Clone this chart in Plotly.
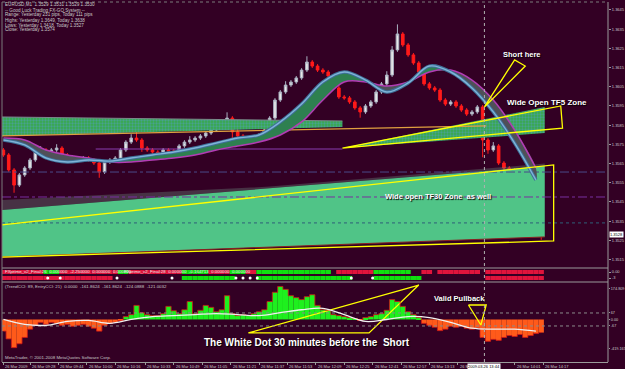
import plotly.graph_objects as go

# ======================= DATA =======================
session_start = "09:13"
bar_minutes = 3

first_open = 1.35721
close = [1.35695, 1.35617, 1.35538, 1.35591, 1.35627, 1.35669, 1.35710, 1.35721, 1.35710, 1.35721,
         1.35731, 1.35695, 1.35679, 1.35669, 1.35669, 1.35679, 1.35669, 1.35653, 1.35606, 1.35658,
         1.35669, 1.35679, 1.35721, 1.35762, 1.35783, 1.35773, 1.35731, 1.35721, 1.35710, 1.35705,
         1.35721, 1.35716, 1.35710, 1.35742, 1.35762, 1.35773, 1.35783, 1.35794, 1.35809, 1.35825,
         1.35835, 1.35851, 1.35887, 1.35815, 1.35794, 1.35773, 1.35783, 1.35773, 1.35799, 1.35825,
         1.35887, 1.35981, 1.36023, 1.36059, 1.36075, 1.36096, 1.36137, 1.36179, 1.36158, 1.36137,
         1.36127, 1.36106, 1.36044, 1.35997, 1.35992, 1.35971, 1.35940, 1.35919, 1.35950, 1.35971,
         1.36023, 1.36065, 1.36111, 1.36242, 1.36325, 1.36268, 1.36216, 1.36174, 1.36127, 1.36065,
         1.36044, 1.36033, 1.35981, 1.35960, 1.35971, 1.35950, 1.35929, 1.35908, 1.35919, 1.35945,
         1.35773, 1.35721, 1.35742, 1.35653, 1.35627, 1.35617, 1.35502, 1.35565, 1.35460, 1.35398,
         1.35330, 1.35283]
wick_up_pips = [1, 1, 1, 1, 1, 1, 1, 2, 1, 1, 2, 1, 1, 1, 1, 1, 1, 1, 1, 1,
                1, 1, 1, 1, 2, 4, 1, 1, 1, 1, 1, 1, 1, 1, 1, 2, 1, 1, 1, 1,
                1, 1, 3, 1, 2, 1, 1, 1, 1, 1, 1, 1, 1, 2, 1, 1, 1, 3, 1, 1,
                1, 1, 1, 1, 1, 1, 1, 1, 1, 1, 1, 1, 2, 2, 5, 1, 1, 1, 1, 1,
                1, 1, 1, 1, 1, 1, 1, 1, 1, 1, 1, 1, 2, 1, 1, 1, 1, 2, 1, 1,
                1, 1]
wick_dn_pips = [1, 1, 4, 1, 1, 1, 1, 1, 1, 1, 1, 1, 1, 1, 1, 1, 1, 1, 3, 1,
                1, 1, 1, 1, 1, 1, 2, 1, 1, 2, 1, 1, 1, 1, 1, 1, 1, 1, 1, 1,
                1, 1, 1, 8, 1, 2, 1, 1, 1, 1, 1, 1, 1, 1, 1, 1, 1, 1, 1, 1,
                1, 1, 1, 1, 1, 1, 1, 3, 1, 1, 1, 1, 1, 1, 1, 1, 1, 1, 1, 1,
                1, 1, 1, 1, 1, 1, 1, 1, 1, 1, 9, 2, 1, 1, 1, 1, 3, 1, 1, 1,
                2, 3]

ma_step = 12
ma_fast = [1.35773, 1.35747, 1.35679, 1.35658, 1.35669, 1.35663, 1.35679, 1.35695, 1.35710, 1.35731,
           1.35757, 1.35783, 1.35799, 1.35867, 1.35960, 1.36075, 1.36127, 1.36085, 1.36023, 1.36070,
           1.36158, 1.36127, 1.36044, 1.35919, 1.35757, 1.35565]
ma_slow = [1.35783, 1.35773, 1.35721, 1.35695, 1.35679, 1.35658, 1.35658, 1.35669, 1.35679, 1.35695,
           1.35721, 1.35742, 1.35762, 1.35799, 1.35867, 1.35981, 1.36075, 1.36075, 1.36054, 1.36075,
           1.36127, 1.36137, 1.36085, 1.35981, 1.35825, 1.35627]

cci_hist = [-120, -200, -290, -250, -185, -100, -60, -30, -50, -30,
            -40, -60, -50, -70, -60, -50, -70, -90, -120, -60,
            -40, -30, -10, 30, 50, 145, 70, 50, 40, 40,
            60, 135, 90, 60, 100, 185, 60, 95, 145, 125,
            80, 100, 245, 60, 40, 50, 40, 60, 80, 100,
            185, 280, 340, 310, 245, 225, 205, 235, 255, 145,
            100, 95, 50, 40, 30, 20, 10, -10, 20, 30,
            50, 60, 95, 205, 185, 135, 80, 50, 20, -40,
            -60, -80, -115, -100, -70, -80, -70, -90, -100, -90,
            -185, -225, -205, -215, -185, -165, -175, -155, -185, -165,
            -145, -135]
cci_trend = [0, -50, -60, -20, -10, -40, 0, 30, 40, 50, 60, 50, 40, 70, 100, 115, 50, -20, 0, 30,
             20, -30, -90, -100, -100, -120]

sig_row1 = ("rrrrrrrr" "ggg" "rrrrrrrrrrr" "gg" "rrrrrrrrrr" "ggggg" "rrrr" "ggg" "rr"
            "gggggggggggggg" "." "rrrrrrr" "ggggggg" ".." "rr" "." "rrrrrrrr" "." "rrrrrrrrrrr")
sig_row2 = ("rrrrrrrrrrrrrrrrrrrrr" "............." "gggggggggg" "...." "gggggggggggggggggg"
            "...." "ggggggggg" "............" "rrrrrrrrrrr")
sig_dots_min = [25, 32, 64, 95, 131, 135, 139, 143, 196, 208]

price_ticks = [1.3515, 1.3525, 1.3535, 1.3545, 1.3555, 1.3565, 1.3575, 1.3585, 1.3595, 1.3605,
               1.3615, 1.3625, 1.3635, 1.3645]
last_price = 1.3528

time_labels = ["26 Mar 2009", "26 Mar 09:28", "26 Mar 09:44", "26 Mar 10:00", "26 Mar 10:16",
               "26 Mar 10:33", "26 Mar 10:49", "26 Mar 11:05", "26 Mar 11:21", "26 Mar 11:37",
               "26 Mar 11:53", "26 Mar 12:09", "26 Mar 12:25", "26 Mar 12:41", "26 Mar 12:57",
               "26 Mar 13:13", "26 Mar 13:29", "26 Mar 14:01", "26 Mar 14:17"]
time_label_clock = ["09:13", "09:28", "09:44", "10:00", "10:16", "10:33", "10:49", "11:05", "11:21",
                    "11:37", "11:53", "12:09", "12:25", "12:41", "12:57", "13:13", "13:29",
                    "14:01", "14:17"]
crosshair_clock = "13:44"
crosshair_label = "2009.03.26 13:44"

level_prices = [1.35606, 1.35476, 1.35341]
level_colors = ["#4a4a8a", "#7a2fa0", "#2f5f78"]
level_dash = ["dashdot", "dashdot", "dot"]

tf5_band_t = [-2, 191]
tf5_band_top = [1.35893, 1.35872]
tf5_band_bot = [1.35794, 1.35841]
tf5_orange_t = [-2, 272]
tf5_orange_p = [1.35794, 1.35846]
tf5_wedge_t = [191, 305, 305]
tf5_wedge_p = [1.35731, 1.35945, 1.35809]
pivot_t = [52, 191]
pivot_p = [1.35726, 1.35726]

tf30_t = [-2, 305]
tf30_top = [1.35408, 1.35637]
tf30_bot = [1.35163, 1.35268]
tf30_fringe_t = [-2, 150, 305]
tf30_fringe_p = [1.35460, 1.35530, 1.35650]

mark_short_t = [271, 288, 294, 271]
mark_short_p = [1.35945, 1.36190, 1.36158, 1.35945]
mark_tf5_t = [191, 314, 315, 191]
mark_tf5_p = [1.35731, 1.35950, 1.35835, 1.35731]
mark_tf30_t = [-2, 310, 310, -2]
mark_tf30_p = [1.35330, 1.35643, 1.35247, 1.35163]
mark_pull_t = [262, 272, 269, 262]
mark_pull_v = [149, 149, -57, 149]
mark_dot_t = [138, 206, 234, 138]
mark_dot_v = [-139, -139, 355, -139]

notes = [  # text, minute, value, axis, font size
    ("Short here", 292, 1.36216, "y", 7.5),
    ("Wide Open TF5 Zone", 306, 1.35966, "y", 8),
    ("Wide open TF30 Zone  as well", 245, 1.35481, "y", 7.5),
    ("Valid Pullback", 257, 211, "y3", 7.5),
    ("The White Dot 30 minutes before the  Short", 171, -232, "y3", 10),
]

info_lines = ["EURUSD,M1  1.3529 1.3531 1.3529 1.3530",
              "-- Good Luck Trading FX-GO System --",
              "Range: Yesterday 231 pips, Today 111 pips",
              "Highs: Yesterday 1.3649, Today 1.3638",
              "Lows: Yesterday 1.3418, Today 1.3527",
              "Close: Yesterday 1.3574"]
sig_label_1 = "FXprime_v2_Final:26  0.000000  -2.250000  0.000000  0.000000"
sig_label_2 = "FXprime_v2_Final:28  0.000000  -0.164713  0.000000  0.000000"
cci_label = "(TrendCCI: 89, EntryCCI: 21)  0.0000  -161.8624  -161.8624  -124.0888  -121.0032"
cci_axis_text = ["174.809", "67", "0.00", "-67", "-419.165"]
cci_axis_vals = [314, 67, 0, -67, -304]
sig_axis_text = ["0.00", "-3"]
sig_axis_vals = [0, -3]
copyright_text = "MetaTrader, \u00a9 2001-2008 MetaQuotes Software Corp."

# ======================= LAYOUT GEOMETRY =======================
W, H = 625, 369
ML, MR, MT, MB = 2, 17, 2, 7
PW, PH = W - ML - MR, H - MT - MB
BG = "#330024"
GRID = "#9a9a9a"
TXT = "#c8c8c8"
FS = 4.0


def px_x(xp):
    return (xp - ML) / PW


def px_y(yp):
    return (H - MB - yp) / PH


def clock_to_min(c):
    h, m = c.split(":")
    h0, m0 = session_start.split(":")
    return (int(h) * 60 + int(m)) - (int(h0) * 60 + int(m0))


PX_PER_MIN = 1.775
X0 = 3.4
x_range = [(ML - X0) / PX_PER_MIN, (ML + PW - X0) / PX_PER_MIN]

n = len(close)
t_bars = [i * bar_minutes for i in range(n)]
opens = [first_open] + close[:-1]
highs = [max(o, c) + u * 0.0001 for o, c, u in zip(opens, close, wick_up_pips)]
lows = [min(o, c) - d * 0.0001 for o, c, d in zip(opens, close, wick_dn_pips)]
t_ma = [k * ma_step for k in range(len(ma_fast))]

fig = go.Figure()


def line_tr(x, y, color, width, dash=None, yaxis="y", shape="linear"):
    return go.Scatter(x=x, y=y, mode="lines", yaxis=yaxis,
                      line=dict(color=color, width=width, dash=dash, shape=shape),
                      hoverinfo="skip", showlegend=False)


def area_tr(x, y, color=None, pattern=None, shape="linear"):
    kw = dict(x=x, y=y, mode="lines", fill="toself", line=dict(width=0, shape=shape),
              hoverinfo="skip", showlegend=False)
    if color:
        kw["fillcolor"] = color
    if pattern:
        kw["fillpattern"] = pattern
    return go.Scatter(**kw)


# ---------- TF30 zone ----------
fig.add_trace(area_tr(tf30_fringe_t + tf30_t[::-1], tf30_fringe_p + tf30_top[::-1], "rgba(110,140,130,0.35)"))
fig.add_trace(area_tr(tf30_t + tf30_t[::-1], tf30_top + tf30_bot[::-1], "#50c487"))
fig.add_trace(line_tr(tf30_t, tf30_bot, "#8a2020", 1))

# ---------- TF5 zone ----------
pat = dict(shape=".", fgcolor="#5a9ad8", bgcolor="#37a84a", size=3, solidity=0.45)
fig.add_trace(area_tr(tf5_band_t + tf5_band_t[::-1], tf5_band_top + tf5_band_bot[::-1], "#37a84a", pat))
fig.add_trace(area_tr(tf5_wedge_t + tf5_wedge_t[:1], tf5_wedge_p + tf5_wedge_p[:1], "#37a84a", pat))
fig.add_trace(line_tr(tf5_band_t, tf5_band_top, "#7a8a8a", 1))
fig.add_trace(line_tr(tf5_orange_t, tf5_orange_p, "#e0a040", 1.2))
fig.add_trace(line_tr(pivot_t, pivot_p, "#8a3cb0", 1.2))

# ---------- horizontal levels ----------
for p, c, d in zip(level_prices, level_colors, level_dash):
    fig.add_trace(line_tr(x_range, [p, p], c, 1, d))


# ---------- MA ribbon ----------
def segments(t, a, b):
    segs = []
    ct, ca, cb = [t[0]], [a[0]], [b[0]]
    sign = a[0] >= b[0]
    for i in range(1, len(t)):
        s = a[i] >= b[i]
        if s != sign:
            d0 = a[i - 1] - b[i - 1]
            d1 = a[i] - b[i]
            f = d0 / (d0 - d1)
            tc = t[i - 1] + f * (t[i] - t[i - 1])
            pc = a[i - 1] + f * (a[i] - a[i - 1])
            ct.append(tc); ca.append(pc); cb.append(pc)
            segs.append((sign, ct, ca, cb))
            ct, ca, cb = [tc], [pc], [pc]
            sign = s
        ct.append(t[i]); ca.append(a[i]); cb.append(b[i])
    segs.append((sign, ct, ca, cb))
    return segs


for sgn, st, sa, sb in segments(t_ma, ma_fast, ma_slow):
    fig.add_trace(area_tr(st + st[::-1], sa + sb[::-1], "#2e8050" if sgn else "#4f5058", shape="spline"))
fig.add_trace(line_tr(t_ma, ma_slow, "#b23cb4", 1.5, shape="spline"))
fig.add_trace(line_tr(t_ma, ma_fast, "#3f6f98", 3.4, shape="spline"))
fig.add_trace(line_tr(t_ma, ma_fast, "#7fb4d8", 1.4, shape="spline"))

# ---------- candles ----------
fig.add_trace(go.Candlestick(x=t_bars, open=opens, high=highs, low=lows, close=close,
                             increasing=dict(line=dict(color="#a8b0c0", width=1), fillcolor="#e8e8e8"),
                             decreasing=dict(line=dict(color="#ff1a1a", width=1), fillcolor="#ff1a1a"),
                             whiskerwidth=0, hoverinfo="skip", showlegend=False))

# ---------- yellow drawings ----------
for xs, ys, ax in [(mark_short_t, mark_short_p, "y"), (mark_tf5_t, mark_tf5_p, "y"),
                   (mark_tf30_t, mark_tf30_p, "y"), (mark_pull_t, mark_pull_v, "y3"),
                   (mark_dot_t, mark_dot_v, "y3")]:
    fig.add_trace(line_tr(xs, ys, "#ffff00", 1.3, yaxis=ax))

# ---------- signal rows ----------
for row, base in [(sig_row1, -1), (sig_row2, -4)]:
    xs = [t_bars[i] for i, ch in enumerate(row) if ch != "."]
    cs = ["#e0143c" if ch == "r" else "#10e010" for ch in row if ch != "."]
    fig.add_trace(go.Bar(x=xs, y=[2] * len(xs), base=base, width=bar_minutes, yaxis="y2",
                         marker=dict(color=cs, line=dict(width=0)), hoverinfo="skip", showlegend=False))
fig.add_trace(go.Scatter(x=sig_dots_min, y=[-3] * len(sig_dots_min), mode="markers", yaxis="y2",
                         marker=dict(color="white", size=3), hoverinfo="skip", showlegend=False))

# ---------- CCI ----------
fig.add_trace(go.Bar(x=t_bars, y=cci_hist, width=bar_minutes, yaxis="y3",
                     marker=dict(color=["#1ef01e" if v >= 0 else "#ff5a1a" for v in cci_hist], line=dict(width=0)),
                     hoverinfo="skip", showlegend=False))
fig.add_trace(line_tr(t_bars, cci_hist, "#d01818", 0.8, yaxis="y3", shape="hvh"))
for lv in [67, -67]:
    fig.add_trace(line_tr(x_range, [lv, lv], "#8a8a8a", 1, "dot", yaxis="y3"))
fig.add_trace(line_tr([k * ma_step for k in range(len(cci_trend))], cci_trend, "#f0f0f0", 1.3,
                      yaxis="y3", shape="spline"))

# ======================= AXES / LAYOUT =======================
tfont = dict(family="Liberation Sans", size=FS, color=TXT)
time_pos = [clock_to_min(c) for c in time_label_clock]
cross_t = clock_to_min(crosshair_clock)

fig.update_layout(
    width=W, height=H, margin=dict(l=ML, r=MR, t=MT, b=MB),
    paper_bgcolor=BG, plot_bgcolor=BG, barmode="overlay", showlegend=False,
    xaxis=dict(range=x_range, anchor="y3", showgrid=False, zeroline=False, showline=True, linecolor=GRID,
               tickvals=time_pos, ticktext=[""] * len(time_pos), ticks="outside", ticklen=2, tickcolor=GRID,
               rangeslider=dict(visible=False), fixedrange=True),
    yaxis=dict(domain=[px_y(268), 1], range=[1.36502 - 268 / 19200, 1.36502 - 2 / 19200], side="right",
               anchor="x", showgrid=False, zeroline=False, tickvals=price_ticks,
               ticktext=[f"{v:.4f}" for v in price_ticks], ticks="outside", ticklen=2, tickcolor=GRID,
               tickfont=tfont, automargin=False),
    yaxis2=dict(domain=[px_y(282), px_y(268)], range=[-5, 2], side="right", anchor="x", showgrid=False,
                zeroline=False, tickvals=sig_axis_vals, ticktext=sig_axis_text, ticks="outside", ticklen=2,
                tickcolor=GRID, tickfont=tfont, automargin=False),
    yaxis3=dict(domain=[0, px_y(282)], range=[-438, 386], side="right", anchor="x", showgrid=False,
                zeroline=False, tickvals=cci_axis_vals, ticktext=cci_axis_text, ticks="outside", ticklen=1,
                tickcolor=GRID, tickfont=dict(family="Liberation Sans", size=3.8, color=TXT), automargin=False),
)

shapes = [
    dict(type="line", xref="paper", yref="paper", x0=1, x1=1, y0=0, y1=1, line=dict(color=GRID, width=1)),
    dict(type="line", xref="paper", yref="paper", x0=0, x1=1, y0=px_y(268), y1=px_y(268), line=dict(color=GRID, width=1)),
    dict(type="line", xref="paper", yref="paper", x0=0, x1=1, y0=px_y(282), y1=px_y(282), line=dict(color=GRID, width=1)),
    dict(type="line", xref="paper", yref="paper", x0=0, x1=1, y0=1, y1=1, line=dict(color="#7a7a7a", width=1, dash="dot")),
    dict(type="line", xref="paper", yref="paper", x0=0, x1=0, y0=0, y1=1, line=dict(color="#7a7a7a", width=1)),
    dict(type="line", xref="x", yref="paper", x0=cross_t, x1=cross_t, y0=0, y1=1,
         line=dict(color="#b0b0b0", width=1, dash="dot")),
]
fig.update_layout(shapes=shapes)

ann = []
for txt, tm, val, ax, sz in notes:
    ann.append(dict(text=txt, x=tm, y=val, xref="x", yref=ax, showarrow=False,
                    font=dict(family="Liberation Sans", size=sz, color="white", weight="bold",
                              shadow="1px 1px 1px #000000")))
for i, line in enumerate(info_lines):
    ann.append(dict(text=line, x=px_x(3), y=px_y(5 + 5 * i), xref="paper", yref="paper", xanchor="left",
                    yanchor="middle", showarrow=False, font=dict(family="Liberation Sans", size=4.6, color=TXT)))
for tl, tp in zip(time_labels, time_pos):
    ann.append(dict(text=tl, x=tp, y=px_y(366), xref="x", yref="paper", xanchor="left", yanchor="middle",
                    showarrow=False, font=tfont))
ann.append(dict(text=sig_label_1, x=px_x(3), y=px_y(271.5), xref="paper", yref="paper", xanchor="left",
                yanchor="middle", showarrow=False, font=dict(family="Liberation Sans", size=4.4, color="#e8e8e8")))
ann.append(dict(text=sig_label_2, x=px_x(122), y=px_y(271.5), xref="paper", yref="paper", xanchor="left",
                yanchor="middle", showarrow=False, font=dict(family="Liberation Sans", size=4.4, color="#e8e8e8")))
ann.append(dict(text=cci_label, x=px_x(3), y=px_y(286), xref="paper", yref="paper", xanchor="left",
                yanchor="middle", showarrow=False, font=dict(family="Liberation Sans", size=4.4, color=TXT)))
ann.append(dict(text=copyright_text, x=px_x(3), y=px_y(357), xref="paper", yref="paper", xanchor="left",
                yanchor="middle", showarrow=False, font=dict(family="Liberation Sans", size=4.4, color=TXT)))
ann.append(dict(text=f"{last_price:.4f}", x=1, y=last_price, xref="paper", yref="y", xanchor="left",
                yanchor="middle", xshift=1, showarrow=False, bgcolor="#ffffff", borderpad=0,
                font=dict(family="Liberation Sans", size=FS, color="#000000")))
ann.append(dict(text=crosshair_label, x=cross_t, y=px_y(366), xref="x", yref="paper", xanchor="center",
                yanchor="middle", showarrow=False, bgcolor="#ffffff", borderpad=0,
                font=dict(family="Liberation Sans", size=FS, color="#000000")))
fig.update_layout(annotations=ann)

fig.write_html("out.html")
